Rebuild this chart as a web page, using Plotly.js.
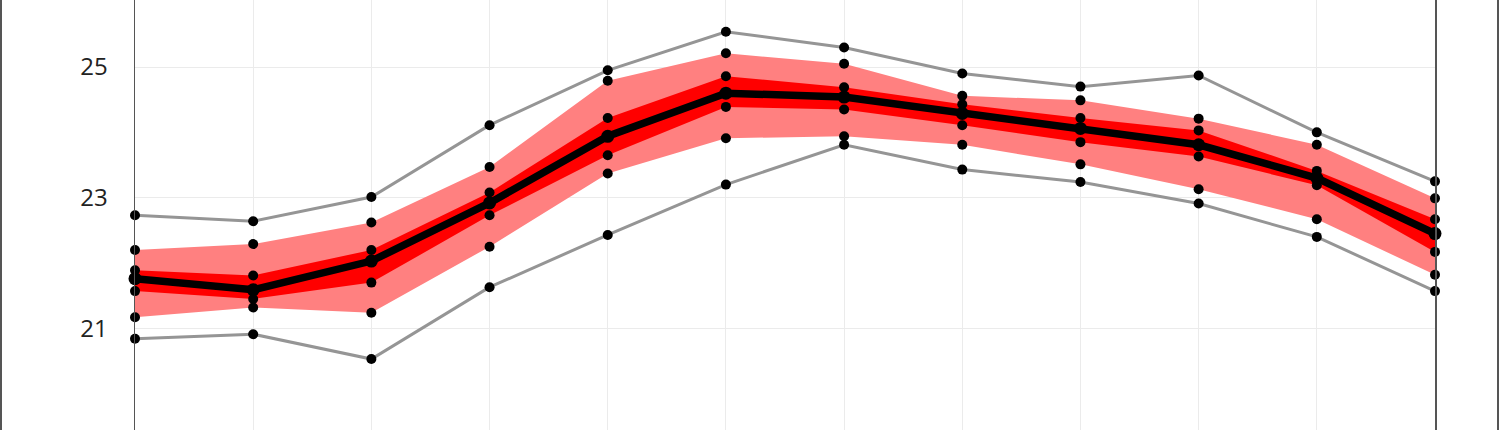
<!DOCTYPE html>
<html>
<head>
<meta charset="utf-8">
<script src="https://cdn.plot.ly/plotly-3.0.1.min.js"></script>
<style>
  html, body { margin: 0; padding: 0; width: 1500px; height: 430px; overflow: hidden; background: #fff; }
  #plot { position: absolute; left: 0; top: -85px; width: 1500px; height: 600px; }
  #frame { position: absolute; left: 0; top: 0; width: 1495px; height: 430px;
           border-left: 2px solid #555; border-right: 2px solid #555; pointer-events: none; z-index: 10; }
</style>
</head>
<body>
<div id="plot"></div>
<div id="frame"></div>
<script>
// Categories (x positions)
const months = [1, 2, 3, 4, 5, 6, 7, 8, 9, 10, 11, 12];

// Series values
const maxVals    = [22.73, 22.64, 23.01, 24.11, 24.95, 25.54, 25.30, 24.90, 24.70, 24.87, 24.00, 23.25];
const p90Vals    = [22.20, 22.29, 22.62, 23.47, 24.79, 25.21, 25.05, 24.56, 24.49, 24.21, 23.81, 22.99];
const p75Vals    = [21.89, 21.81, 22.20, 23.08, 24.22, 24.86, 24.69, 24.43, 24.22, 24.03, 23.41, 22.67];
const medianVals = [21.76, 21.59, 22.03, 22.92, 23.94, 24.60, 24.54, 24.29, 24.06, 23.81, 23.30, 22.45];
const p25Vals    = [21.57, 21.45, 21.70, 22.73, 23.65, 24.39, 24.35, 24.11, 23.85, 23.63, 23.19, 22.17];
const p10Vals    = [21.17, 21.32, 21.24, 22.25, 23.37, 23.91, 23.94, 23.81, 23.51, 23.13, 22.67, 21.82];
const minVals    = [20.84, 20.91, 20.53, 21.63, 22.43, 23.20, 23.81, 23.43, 23.24, 22.91, 22.40, 21.57];

const yTicks = [21, 23, 25];

const traces = [
  { x: months, y: p10Vals, mode: 'lines', line: { width: 0 }, hoverinfo: 'skip' },
  { x: months, y: p90Vals, mode: 'lines', line: { width: 0 }, fill: 'tonexty', fillcolor: '#ff8080', hoverinfo: 'skip' },
  { x: months, y: p25Vals, mode: 'lines', line: { width: 0 }, hoverinfo: 'skip' },
  { x: months, y: p75Vals, mode: 'lines', line: { width: 0 }, fill: 'tonexty', fillcolor: '#ff0000', hoverinfo: 'skip' },
  { x: months, y: maxVals, mode: 'lines', line: { color: '#959595', width: 3 } },
  { x: months, y: minVals, mode: 'lines', line: { color: '#959595', width: 3 } },
  { x: months, y: medianVals, mode: 'lines', line: { color: '#000000', width: 7.5 } }
];

[maxVals, p90Vals, p75Vals, p25Vals, p10Vals, minVals].forEach(v => {
  traces.push({ x: months, y: v, mode: 'markers', cliponaxis: false,
                marker: { color: '#000000', size: 10 } });
});
traces.push({ x: months, y: medianVals, mode: 'markers', cliponaxis: false,
              marker: { color: '#000000', size: 13 } });

const layout = {
  width: 1500, height: 600,
  margin: { l: 135, r: 65, t: 0, b: 0 },
  paper_bgcolor: '#ffffff', plot_bgcolor: '#ffffff',
  showlegend: false,
  font: { family: 'Open Sans, sans-serif', color: '#222222' },
  xaxis: {
    range: [1, 12], tickvals: months, showticklabels: false,
    showgrid: true, gridcolor: '#ebebeb', gridwidth: 1,
    zeroline: false, showline: false, ticks: ''
  },
  yaxis: {
    range: [18.143, 27.327], tickvals: yTicks, ticktext: yTicks.map(String),
    showgrid: true, gridcolor: '#ebebeb', gridwidth: 1,
    zeroline: false, showline: true, mirror: true, linecolor: '#555555', linewidth: 1.5,
    ticks: '', ticklabelstandoff: 21,
    tickfont: { size: 24, color: '#222222', family: 'Open Sans, sans-serif' }
  }
};

Plotly.newPlot('plot', traces, layout, { displayModeBar: false, staticPlot: true });
</script>
</body>
</html>
